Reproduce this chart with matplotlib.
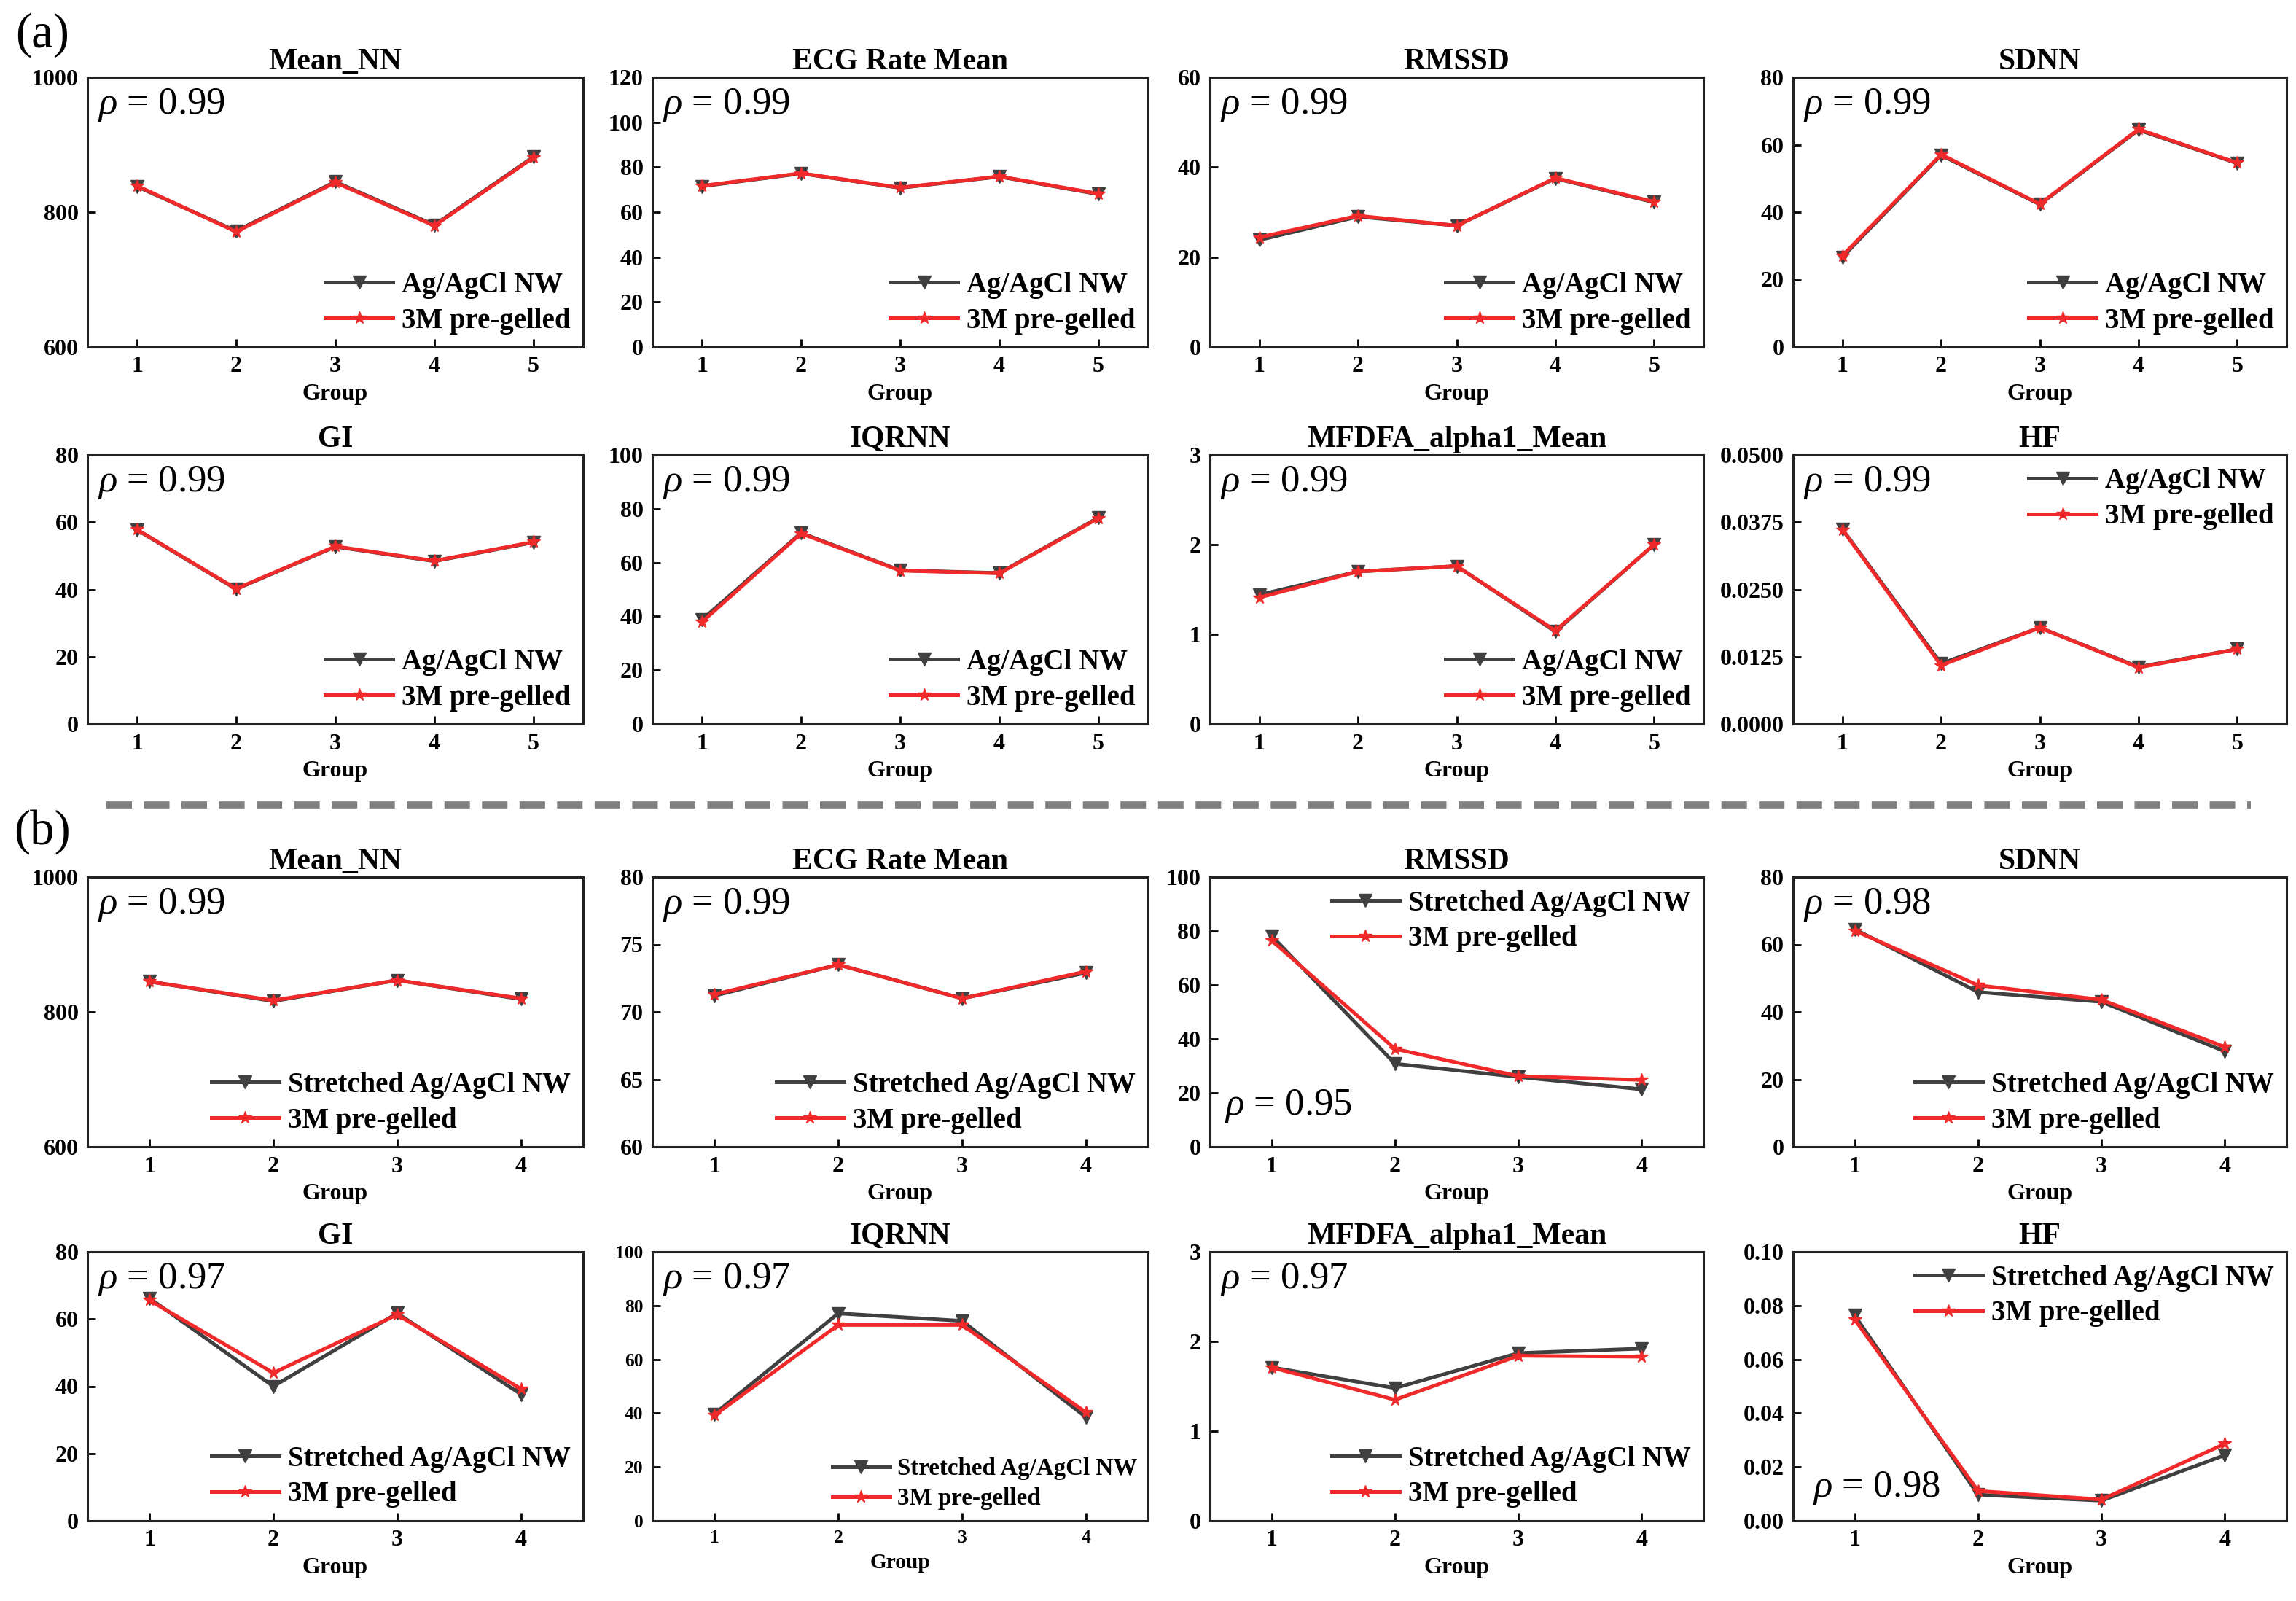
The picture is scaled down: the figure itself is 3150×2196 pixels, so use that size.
import matplotlib
matplotlib.use('Agg')
import matplotlib.pyplot as plt
from matplotlib.lines import Line2D
from matplotlib.ticker import FormatStrFormatter

plt.rcParams['font.family'] = ['Liberation Serif', 'DejaVu Serif']
plt.rcParams['font.weight'] = 'bold'
plt.rcParams['mathtext.fontset'] = 'custom'
plt.rcParams['mathtext.it'] = 'Liberation Serif:italic:normal'
plt.rcParams['mathtext.rm'] = 'Liberation Serif:normal'

# ---------------- data ----------------
groups_a = [1, 2, 3, 4, 5]
groups_b = [1, 2, 3, 4]

titles = ['Mean_NN', 'ECG Rate Mean', 'RMSSD', 'SDNN', 'GI', 'IQRNN', 'MFDFA_alpha1_Mean', 'HF']
label_a = 'Ag/AgCl NW'
label_b = 'Stretched Ag/AgCl NW'
label_ref = '3M pre-gelled'

# (a) Ag/AgCl NW vs 3M pre-gelled
a_meannn_ag = [838, 772, 845, 781, 882]
a_meannn_3m = [839, 771, 844, 780, 881]
a_ecg_ag = [71.5, 77.2, 70.8, 75.8, 68.0]
a_ecg_3m = [71.7, 77.3, 70.9, 75.9, 68.2]
a_rmssd_ag = [23.8, 29.0, 27.0, 37.5, 32.2]
a_rmssd_3m = [24.4, 29.2, 27.0, 37.6, 32.3]
a_sdnn_ag = [26.7, 56.9, 42.3, 64.4, 54.5]
a_sdnn_3m = [27.1, 57.1, 42.4, 64.6, 54.6]
a_gi_ag = [57.7, 40.1, 52.7, 48.4, 54.0]
a_gi_3m = [57.8, 40.2, 52.8, 48.5, 54.1]
a_iqrnn_ag = [38.7, 71.0, 57.1, 56.1, 76.7]
a_iqrnn_3m = [37.9, 70.8, 57.0, 56.0, 76.5]
a_mfdfa_ag = [1.44, 1.70, 1.76, 1.03, 2.00]
a_mfdfa_3m = [1.41, 1.70, 1.76, 1.04, 2.00]
a_hf_ag = [0.0362, 0.0112, 0.0179, 0.0106, 0.0139]
a_hf_3m = [0.0361, 0.0109, 0.0179, 0.0105, 0.0139]
rho_a = ['0.99', '0.99', '0.99', '0.99', '0.99', '0.99', '0.99', '0.99']

# (b) Stretched Ag/AgCl NW vs 3M pre-gelled
b_meannn_ag = [845, 816, 847, 819]
b_meannn_3m = [845, 817, 847, 820]
b_ecg_ag = [71.2, 73.5, 71.0, 72.9]
b_ecg_3m = [71.3, 73.5, 71.0, 73.0]
b_rmssd_ag = [78.2, 30.8, 25.9, 21.3]
b_rmssd_3m = [76.5, 36.3, 26.2, 24.8]
b_sdnn_ag = [64.5, 45.9, 43.0, 28.3]
b_sdnn_3m = [64.1, 47.9, 43.6, 29.6]
b_gi_ag = [66.2, 40.0, 61.7, 37.6]
b_gi_3m = [65.6, 44.0, 61.3, 39.2]
b_iqrnn_ag = [39.7, 77.1, 74.3, 38.5]
b_iqrnn_3m = [39.2, 72.8, 72.8, 40.3]
b_mfdfa_ag = [1.71, 1.48, 1.87, 1.92]
b_mfdfa_3m = [1.71, 1.35, 1.84, 1.83]
b_hf_ag = [0.0763, 0.0097, 0.0075, 0.0244]
b_hf_3m = [0.0748, 0.0111, 0.0079, 0.0286]
rho_b = ['0.99', '0.99', '0.95', '0.98', '0.97', '0.97', '0.97', '0.98']

# axis tick values
yt_a = [[600, 800, 1000], [0, 20, 40, 60, 80, 100, 120], [0, 20, 40, 60], [0, 20, 40, 60, 80],
        [0, 20, 40, 60, 80], [0, 20, 40, 60, 80, 100], [0, 1, 2, 3], [0, 0.0125, 0.025, 0.0375, 0.05]]
yt_b = [[600, 800, 1000], [60, 65, 70, 75, 80], [0, 20, 40, 60, 80, 100], [0, 20, 40, 60, 80],
        [0, 20, 40, 60, 80], [0, 20, 40, 60, 80, 100], [0, 1, 2, 3], [0, 0.02, 0.04, 0.06, 0.08, 0.10]]

# ---------------- layout ----------------
W, H = 3150, 2196
fig = plt.figure(figsize=(W / 100, H / 100), dpi=100)

cols = [(120, 800), (895, 1575), (1660, 2337), (2460, 3137)]
rows = [(106, 476), (624, 993), (1203, 1573), (1717, 2086)]

GRAY = '#404040'
RED = '#f02a2a'


def add_ax(r, c):
    x0, x1 = cols[c]
    y0, y1 = rows[r]
    return fig.add_axes([x0 / W, 1 - y1 / H, (x1 - x0) / W, (y1 - y0) / H])


def panel(ax, groups, ag, mm, title, yticks, fmt, rho, lab_ag, leg_loc, rho_xy, rho_va,
          tscale=1.0, lscale=1.0):
    ax.plot(groups, ag, color=GRAY, lw=3.6, marker='v', ms=13, label=lab_ag, zorder=3)
    ax.plot(groups, mm, color=RED, lw=3.6, marker='*', ms=13, label=label_ref, zorder=4)
    ax.set_xlim(0.5, len(groups) + 0.5)
    ax.set_xticks(groups)
    ax.set_ylim(yticks[0], yticks[-1])
    ax.set_yticks(yticks)
    ax.yaxis.set_major_formatter(FormatStrFormatter(fmt))
    ax.tick_params(direction='in', length=8, width=2, labelsize=23 * tscale, pad=9)
    for s in ax.spines.values():
        s.set_linewidth(2.2)
        s.set_color('#222222')
    ax.set_title(title, fontsize=30, fontweight='bold', pad=8)
    ax.set_xlabel('Group', fontsize=23 * (0.92 if tscale < 1 else 1.0), fontweight='bold',
                  labelpad=6)
    ax.text(rho_xy[0], rho_xy[1], r'$\rho$ = ' + rho, transform=ax.transAxes,
            fontsize=38, fontweight='normal', va=rho_va, ha='left')
    ax.legend(loc=leg_loc, frameon=False, handlelength=2.4,
              handletextpad=0.3, labelspacing=0.3, borderaxespad=0.15, borderpad=0.3,
              numpoints=1, prop={'weight': 'bold', 'size': 28 * lscale})


fmt_a = ['%d'] * 6 + ['%d', '%.4f']
fmt_b = ['%d'] * 6 + ['%d', '%.2f']

data_a = [(a_meannn_ag, a_meannn_3m), (a_ecg_ag, a_ecg_3m), (a_rmssd_ag, a_rmssd_3m),
          (a_sdnn_ag, a_sdnn_3m), (a_gi_ag, a_gi_3m), (a_iqrnn_ag, a_iqrnn_3m),
          (a_mfdfa_ag, a_mfdfa_3m), (a_hf_ag, a_hf_3m)]
data_b = [(b_meannn_ag, b_meannn_3m), (b_ecg_ag, b_ecg_3m), (b_rmssd_ag, b_rmssd_3m),
          (b_sdnn_ag, b_sdnn_3m), (b_gi_ag, b_gi_3m), (b_iqrnn_ag, b_iqrnn_3m),
          (b_mfdfa_ag, b_mfdfa_3m), (b_hf_ag, b_hf_3m)]

leg_a = ['lower right'] * 7 + ['upper right']
leg_b = ['lower right', 'lower right', 'upper right', 'lower right',
         'lower right', 'lower right', 'lower right', 'upper right']

for i in range(8):
    r, c = divmod(i, 4)
    ax = add_ax(r, c)
    panel(ax, groups_a, data_a[i][0], data_a[i][1], titles[i], yt_a[i], fmt_a[i], rho_a[i],
          label_a, leg_a[i], (0.02, 0.965), 'top')

for i in range(8):
    r, c = divmod(i, 4)
    ax = add_ax(r + 2, c)
    rho_xy, rho_va = (0.02, 0.965), 'top'
    if i == 2:
        rho_xy, rho_va = (0.03, 0.12), 'baseline'
    if i == 7:
        rho_xy, rho_va = (0.04, 0.09), 'baseline'
    small = (i == 5)
    panel(ax, groups_b, data_b[i][0], data_b[i][1], titles[i], yt_b[i], fmt_b[i], rho_b[i],
          label_b, leg_b[i], rho_xy, rho_va,
          tscale=(0.8 if small else 1.0), lscale=(0.85 if small else 1.0))

# panel letters and separator
fig.text(58 / W, 1 - 48 / H, '(a)', fontsize=48, fontweight='normal', ha='center', va='center')
fig.text(58 / W, 1 - 1141 / H, '(b)', fontsize=48, fontweight='normal', ha='center', va='center')
sep = Line2D([146 / W, 3088 / W], [1 - 1104 / H, 1 - 1104 / H], transform=fig.transFigure,
             color='#808080', lw=7, linestyle=(0, (3.6, 1.7)))
fig.add_artist(sep)

fig.savefig('out.png', dpi=100, facecolor='white')
